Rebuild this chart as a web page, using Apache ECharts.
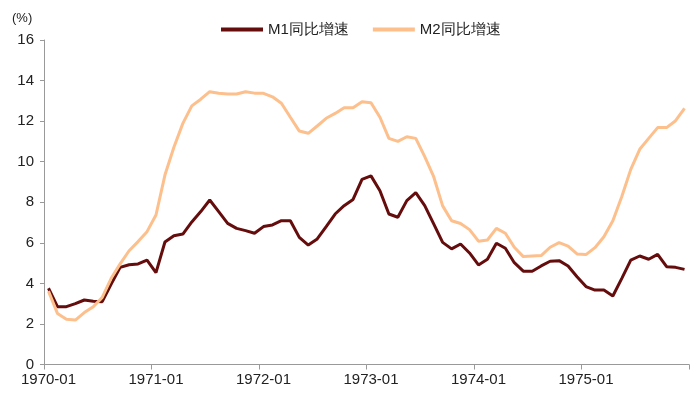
<!DOCTYPE html>
<html>
<head>
<meta charset="utf-8">
<script src="https://cdn.jsdelivr.net/npm/echarts@6/dist/echarts.min.js"></script>
<style>html,body{margin:0;padding:0;background:#fff;}#c{width:700px;height:396px;}</style>
</head>
<body>
<div id="c"></div>
<script>
var years = [1970, 1971, 1972, 1973, 1974, 1975];
var categories = [];
years.forEach(function (y) { for (var m = 1; m <= 12; m++) categories.push(y + '-' + (m < 10 ? '0' + m : m)); });

var m1Name = 'M1同比增速';
var m2Name = 'M2同比增速';

var m1 = [3.76, 2.85, 2.85, 3.0, 3.18, 3.12, 3.1, 3.97, 4.79, 4.92, 4.96, 5.15,
          4.53, 6.04, 6.35, 6.43, 7.03, 7.54, 8.11, 7.54, 6.96, 6.71, 6.6, 6.47,
          6.8, 6.88, 7.09, 7.09, 6.27, 5.89, 6.19, 6.8, 7.42, 7.83, 8.14, 9.13,
          9.3, 8.57, 7.42, 7.26, 8.08, 8.47, 7.83, 6.93, 6.02, 5.7, 5.94, 5.5,
          4.91, 5.19, 5.98, 5.73, 5.02, 4.6, 4.6, 4.86, 5.09, 5.12, 4.86, 4.33,
          3.84, 3.67, 3.67, 3.38, 4.25, 5.15, 5.35, 5.19, 5.43, 4.82, 4.79, 4.69];

var m2 = [3.62, 2.52, 2.23, 2.19, 2.56, 2.85, 3.31, 4.25, 4.96, 5.61, 6.06, 6.55,
          7.37, 9.34, 10.71, 11.89, 12.75, 13.08, 13.45, 13.37, 13.34, 13.34, 13.45, 13.38,
          13.37, 13.2, 12.88, 12.19, 11.51, 11.4, 11.76, 12.14, 12.38, 12.66, 12.66, 12.96,
          12.91, 12.19, 11.15, 11.0, 11.23, 11.15, 10.25, 9.26, 7.82, 7.09, 6.95, 6.65,
          6.08, 6.14, 6.71, 6.47, 5.78, 5.32, 5.35, 5.37, 5.78, 6.01, 5.84, 5.45,
          5.42, 5.76, 6.3, 7.09, 8.28, 9.62, 10.61, 11.15, 11.68, 11.68, 12.02, 12.63];

var chart = echarts.init(document.getElementById('c'), null, { renderer: 'canvas' });
var font = 'Liberation Sans, Arial, sans-serif';
chart.setOption({
  animation: false,
  backgroundColor: '#ffffff',
  title: {
    text: '(%)', left: 7, top: 7,
    textStyle: { fontSize: 13, fontWeight: 'normal', color: '#222', fontFamily: font }
  },
  legend: {
    left: 216, top: 17,
    icon: 'rect',
    itemWidth: 42, itemHeight: 4, itemGap: 24,
    textStyle: { fontSize: 15, color: '#222', fontFamily: font },
    data: [m1Name, m2Name]
  },
  grid: { left: 44, right: 11, top: 40, bottom: 31.5, containLabel: false },
  xAxis: {
    type: 'category',
    data: categories,
    boundaryGap: true,
    axisLine: { lineStyle: { color: '#999', width: 1 } },
    axisTick: { show: true, interval: 11, length: 5, lineStyle: { color: '#999' } },
    axisLabel: { interval: 11, fontSize: 15, color: '#222', fontFamily: font, margin: 8 },
    splitLine: { show: false }
  },
  yAxis: {
    type: 'value',
    min: 0, max: 16, interval: 2,
    axisLine: { show: true, lineStyle: { color: '#999', width: 1 } },
    axisTick: { show: true, length: 4, lineStyle: { color: '#999' } },
    axisLabel: { fontSize: 15, color: '#222', fontFamily: font, margin: 10 },
    splitLine: { show: false }
  },
  series: [
    { name: m1Name, type: 'line', data: m1, symbol: 'none', lineStyle: { color: '#650c0c', width: 3 }, itemStyle: { color: '#650c0c' } },
    { name: m2Name, type: 'line', data: m2, symbol: 'none', lineStyle: { color: '#fdbf8c', width: 3 }, itemStyle: { color: '#fdbf8c' } }
  ]
});
</script>
</body>
</html>
